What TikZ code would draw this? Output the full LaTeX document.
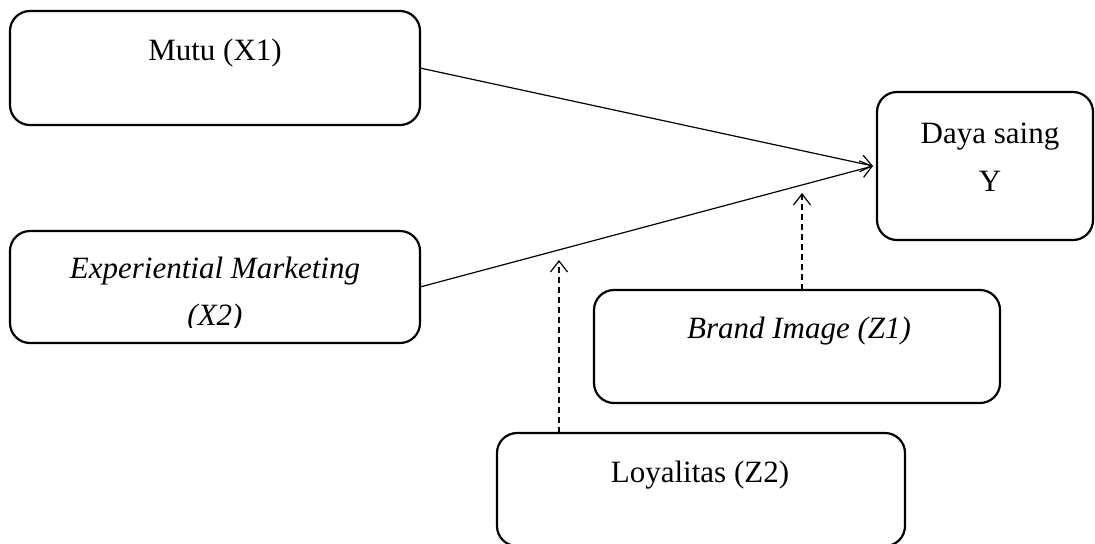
\documentclass[tikz,border=0pt]{standalone}
\usepackage{fontspec}
\setmainfont{Liberation Serif}
\usetikzlibrary{arrows.meta}
\begin{document}
\begin{tikzpicture}[x=0.5pt,y=-0.5pt,
  box/.style={draw, line width=1.1pt, rounded corners=10pt, inner sep=0pt, outer sep=0pt},
  lbl/.style={font=\fontsize{15.5}{23.5}\selectfont, inner sep=0pt, anchor=base},
  link/.style={line width=0.6pt, -{Straight Barb[length=5.5pt,width=8.5pt]}},
  modlink/.style={link, dash pattern=on 3pt off 2pt}]
\useasboundingbox (0,0) rectangle (1095,543);

% variable boxes
\node[box, minimum width=205pt, minimum height=57pt] (mutu) at (215,68) {};
\node[box, minimum width=205pt, minimum height=56pt] (exp) at (215,287) {};
\node[box, minimum width=108pt, minimum height=74pt] (daya) at (985,166) {};
\node[box, minimum width=203pt, minimum height=56.5pt] (brand) at (797,346.5) {};
\node[box, minimum width=204pt, minimum height=56.5pt] (loyal) at (701,489.5) {};

% labels
\node[lbl] (mututxt) at (215,60) {Mutu (X1)};
\begin{scope}
  \clip (10,231) rectangle (420,327);
  \node[lbl] (exptxt1) at (215,278) {\itshape Experiential Marketing};
  \node[lbl] (exptxt2) at (215,325) {\itshape (X2)};
\end{scope}
\node[lbl] (dayatxt1) at (990,143) {Daya saing};
\node[lbl] (dayatxt2) at (990,191) {Y};
\node[lbl] (brandtxt) at (799,338) {\itshape Brand Image (Z1)};
\node[lbl] (loyaltxt) at (700,482) {Loyalitas (Z2)};

% direct effects
\draw[link] (mutu.east) -- ([xshift=-2pt]daya.west);
\draw[link] (exp.east) -- ([xshift=-2pt]daya.west);

% moderating effects
\coordinate (zonetip) at (802,193);
\coordinate (ztwotip) at (559,260);
\draw[modlink] (brand.north -| zonetip) -- (zonetip);
\draw[modlink] (loyal.north -| ztwotip) -- (ztwotip);
\end{tikzpicture}
\end{document}
